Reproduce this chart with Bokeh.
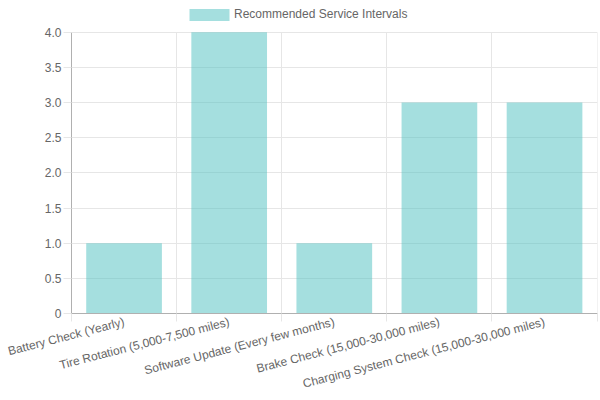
import math
from bokeh.plotting import figure
from bokeh.models import (Range1d, FixedTicker, Legend, LegendItem, ColumnDataSource)
from bokeh.embed import file_html
from bokeh.resources import INLINE

categories = [
    "Battery Check (Yearly)",
    "Tire Rotation (5,000-7,500 miles)",
    "Software Update (Every few months)",
    "Brake Check (15,000-30,000 miles)",
    "Charging System Check (15,000-30,000 miles)",
]
values = [1, 4, 1, 3, 3]
series_name = "Recommended Service Intervals"
y_ticks = [0, 0.5, 1.0, 1.5, 2.0, 2.5, 3.0, 3.5, 4.0]
y_tick_labels = ["0", "0.5", "1.0", "1.5", "2.0", "2.5", "3.0", "3.5", "4.0"]

FONT = "Liberation Sans"
TXT = "#666666"
GRID = "#e6e6e6"
AXIS = "#b0b0b0"

W, H = 600, 400
TOP_GAP = 32          # px between figure top and the 4.0 line
PLOT_H = 283          # px spanned by 0..4
BOTTOM = H - TOP_GAP - PLOT_H
FRAME_H = H - BOTTOM  # frame reaches the figure top so the legend fits inside

y_max = max(y_ticks)
y_top = y_max * FRAME_H / PLOT_H
n = len(categories)

xs = [i + 0.5 for i in range(n)]
src = ColumnDataSource(dict(x=xs, top=values, name=categories))

p = figure(width=W, height=H, output_backend="svg", toolbar_location=None,
           x_range=Range1d(0, n + 0.004), y_range=Range1d(0, y_top))
p.min_border_left = 71
p.min_border_right = 3
p.min_border_top = 0
p.min_border_bottom = BOTTOM
p.outline_line_color = None

r = p.vbar(x="x", top="top", width=0.72, source=src,
           fill_color="rgb(75,192,192)", fill_alpha=0.5, line_color=None)

# x axis
xa = p.xaxis[0]
xa.ticker = FixedTicker(ticks=xs, minor_ticks=list(range(n + 1)))
xa.major_label_overrides = {x: c for x, c in zip(xs, categories)}
xa.major_label_orientation = math.radians(14.5)
xa.major_tick_line_color = None
xa.major_tick_out = 0
xa.major_tick_in = 0
xa.minor_tick_out = 8
xa.minor_tick_in = 0
xa.minor_tick_line_color = GRID
xa.axis_line_color = AXIS
xa.major_label_standoff = 0
xa.major_label_text_font = FONT
xa.major_label_text_font_size = "12px"
xa.major_label_text_color = TXT

p.xgrid.grid_line_color = None
p.xgrid.minor_grid_line_color = GRID
p.xgrid.cross_bounds = (0, y_max)

# y axis
ya = p.yaxis[0]
ya.ticker = FixedTicker(ticks=y_ticks)
ya.bounds = (0, y_max)
ya.major_label_overrides = {t: l for t, l in zip(y_ticks, y_tick_labels)}
ya.major_tick_out = 8
ya.major_tick_in = 0
ya.major_tick_line_color = GRID
ya.minor_tick_line_color = None
ya.axis_line_color = AXIS
ya.major_label_standoff = 2
ya.major_label_text_font = FONT
ya.major_label_text_font_size = "12px"
ya.major_label_text_color = TXT
p.ygrid.grid_line_color = GRID

# legend swatch: Bokeh insets area glyphs by 10%, so 50x15 draws a 40x12 box
legend = Legend(items=[LegendItem(label=series_name, renderers=[r])],
                location=(113, FRAME_H - 8.5 - 15), orientation="horizontal",
                padding=0, margin=0, spacing=0,
                border_line_color=None, background_fill_alpha=0,
                glyph_width=50, glyph_height=15, label_height=15,
                label_standoff=0, label_text_font=FONT,
                label_text_font_size="12px", label_text_color=TXT)
p.add_layout(legend, "center")

open("out.html", "w").write(file_html(p, INLINE))
